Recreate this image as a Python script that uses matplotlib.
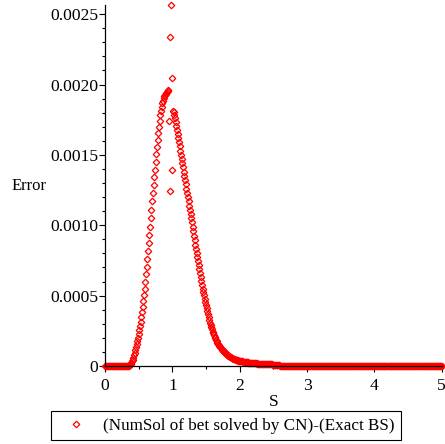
import numpy as np
import matplotlib
matplotlib.use("Agg")
import matplotlib.pyplot as plt
from matplotlib.ticker import FixedLocator, MultipleLocator

# grid of S values used by the solver (step 0.01 from 0 to 5)
s = np.linspace(0, 5, 501)

# error values in units of 1e-6
err_flat_left = [0] * 35            # S = 0.00 .. 0.34
err_rise = [                        # S = 0.35 .. 0.94
    3, 6, 10, 16, 24, 34, 46, 60, 76, 95,
    114, 135, 156, 178, 202, 228, 255, 284, 316, 349,
    384, 420, 459, 503, 550, 600, 652, 706, 762, 818,
    874, 932, 991, 1050, 1110, 1170, 1228, 1284, 1340, 1396,
    1452, 1506, 1558, 1608, 1656, 1700, 1742, 1780, 1813, 1842,
    1866, 1886, 1902, 1915, 1926, 1934, 1941, 1947, 1953, 1960,
]
err_strike = [1743, 2338, 1240, 2565, 1394, 2048]   # S = 0.95 .. 1.00
err_fall = [                        # S = 1.01 .. 2.59
    1814, 1802, 1785, 1762, 1736, 1708, 1680, 1651, 1621, 1591,
    1561, 1531, 1501, 1471, 1441, 1411, 1381, 1351, 1320, 1290,
    1260, 1230, 1200, 1170, 1140, 1110, 1080, 1050, 1020, 990,
    958, 926, 894, 862, 830, 800, 772, 745, 718, 690,
    662, 634, 606, 578, 550, 525, 501, 477, 453, 430,
    409, 388, 367, 346, 325, 308, 292, 276, 260, 245,
    232, 220, 208, 196, 185, 175, 166, 157, 148, 140,
    133, 126, 120, 114, 108, 103, 98, 93, 89, 85,
    81, 77, 74, 70, 67, 64, 61, 58, 56, 53,
    51, 49, 47, 45, 43, 42, 40, 39, 37, 36,
    35, 34, 33, 32, 31, 30, 29, 28, 27, 26,
    25.5, 25, 24.5, 24, 23, 22.5, 22, 21.5, 21, 20,
    19.6, 19.2, 18.8, 18.4, 18, 17.6, 17.2, 16.8, 16.4, 16,
    15.7, 15.4, 15.1, 14.8, 14.5, 14.2, 13.9, 13.6, 13.3, 13,
    12.7, 12.4, 12.1, 11.8, 11.5, 11.2, 10.9, 10.6, 10.3, 10,
    9.8, 9.6, 9.4, 9.2, 9.0, 8.8, 8.6, 8.4, 8.2,
]
err_flat_right = [0] * 241          # S = 2.60 .. 5.00

err = np.array(err_flat_left + err_rise + err_strike + err_fall + err_flat_right) * 1e-6

y_ticks = [0, 0.0005, 0.0010, 0.0015, 0.0020, 0.0025]
y_ticklabels = ['0', '0.0005', '0.0010', '0.0015', '0.0020', '0.0025']
x_ticks = [0, 1, 2, 3, 4, 5]
legend_label = '(NumSol of bet solved by CN)-(Exact BS)'

plt.rcParams['font.family'] = ['Liberation Serif', 'DejaVu Serif']
plt.rcParams['font.size'] = 12

fig = plt.figure(figsize=(4.45, 4.44), dpi=100)
ax = fig.add_axes([0.236, 0.1757, 0.7566, 0.813])

ax.plot(s, err, linestyle='none', marker='D', ms=3.3, mfc='none',
        mec='red', mew=0.9, clip_on=False, label=legend_label)

ax.set_xlim(0, 5)
ax.set_ylim(0, err.max())

for side in ['top', 'right']:
    ax.spines[side].set_visible(False)
for side in ['left', 'bottom']:
    ax.spines[side].set_linewidth(0.9)

ax.xaxis.set_major_locator(FixedLocator(x_ticks))
ax.xaxis.set_minor_locator(MultipleLocator(0.5))
ax.yaxis.set_major_locator(FixedLocator(y_ticks))
ax.set_yticklabels(y_ticklabels)
ax.yaxis.set_minor_locator(MultipleLocator(0.0001))
ax.tick_params(which='major', length=4, width=0.8, pad=1, labelsize=12.6)
ax.tick_params(which='minor', length=2.3, width=0.8)
ax.tick_params(axis='x', which='major', pad=5)

ax.set_xlabel('S', labelpad=0, fontsize=12.6)
ax.set_ylabel('Error', rotation=0, ha='left', va='center')
ax.yaxis.set_label_coords(-0.277, 0.5)

leg = fig.legend(loc='center', bbox_to_anchor=(0.5075, 0.041), numpoints=1,
                 fancybox=False, framealpha=1, edgecolor='black',
                 fontsize=12.3, borderpad=0.38, handletextpad=0.45,
                 handlelength=2.2, borderaxespad=0)
leg.get_frame().set_linewidth(0.8)

fig.savefig('out.png', dpi=100)
